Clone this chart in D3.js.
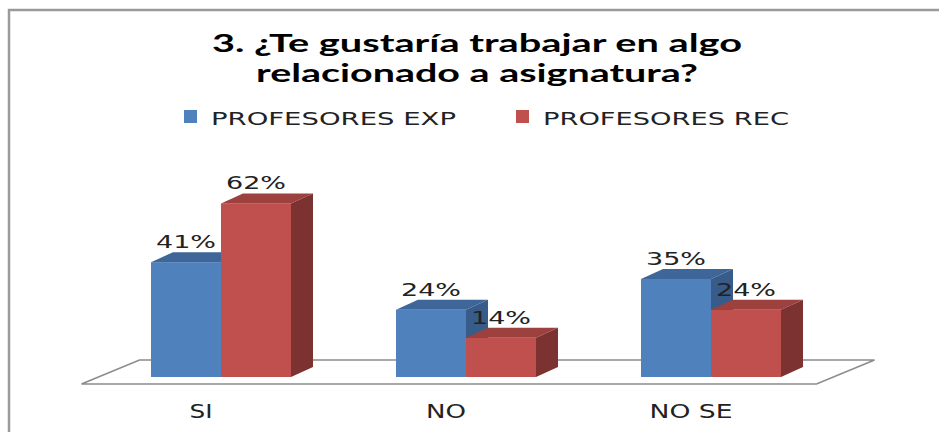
<!DOCTYPE html>
<html><head><meta charset="utf-8">
<script src="https://cdn.jsdelivr.net/npm/d3@7"></script>
<style>body{margin:0;background:#fff;overflow:hidden}</style>
</head><body>
<svg id="c" width="939" height="432"></svg>
<script>
const categories = ["SI", "NO", "NO SE"];
const seriesNames = ["PROFESORES EXP", "PROFESORES REC"];
const profesoresExp = [41, 24, 35];
const profesoresRec = [62, 14, 24];
const titleLines = ["3. ¿Te gustaría trabajar en algo", "relacionado a asignatura?"];

const seriesValues = [profesoresExp, profesoresRec];
const colors = {
  front: ["#4F81BD", "#C0504D"],
  top: ["#3E6698", "#9C413E"],
  side: ["#375C8A", "#7B3230"]
};
// text widths (style/layout only)
const titleWidths = [530, 442];
const legendWidths = [245, 246];
const catWidths = {"SI": 23, "NO": 40, "NO SE": 83};

const W = 939, H = 432;
const svg = d3.select("#c");

svg.append("rect").attr("x", 9).attr("y", 10).attr("width", W + 20).attr("height", H + 20)
  .attr("fill", "#fff").attr("stroke", "#9a9a9a").attr("stroke-width", 2.5);

const x = d3.scalePoint().domain(categories).range([98.5, 833.5]).padding(0.5);
const xs = d3.scaleBand().domain(seriesNames).range([-70, 70]).padding(0);
const y = d3.scaleLinear().domain([0, 100]).range([377, 97]);
const dx = 22, dy = -10;

// floor
const [r0, r1] = x.range();
const b = y(0);
const floorPts = [[r0 - 17, b + 7], [r1 - 17, b + 7], [r1 + 41, b - 17], [r0 + 41, b - 17]];
svg.append("polygon").attr("points", floorPts.map(p => p.join(",")).join(" "))
  .attr("fill", "none").attr("stroke", "#8c8c8c").attr("stroke-width", 1.6);

// bars
categories.forEach((c, i) => {
  seriesNames.forEach((s, k) => {
    const v = seriesValues[k][i];
    const x0 = x(c) + xs(s), x1 = x0 + xs.bandwidth();
    const yt = y(v), yb = y(0);
    const g = svg.append("g");
    g.append("rect").attr("x", x0).attr("y", yt).attr("width", x1 - x0).attr("height", yb - yt)
      .attr("fill", colors.front[k]);
    g.append("polygon").attr("points", [[x0, yt], [x1, yt], [x1 + dx, yt + dy], [x0 + dx, yt + dy]].map(p => p.join(",")).join(" "))
      .attr("fill", colors.top[k]);
    g.append("polygon").attr("points", [[x1, yt], [x1 + dx, yt + dy], [x1 + dx, yb + dy], [x1, yb]].map(p => p.join(",")).join(" "))
      .attr("fill", colors.side[k]);
  });
});

// value labels
categories.forEach((c, i) => {
  seriesNames.forEach((s, k) => {
    const v = seriesValues[k][i];
    svg.append("text")
      .attr("x", x(c) + xs(s) + xs.bandwidth() / 2)
      .attr("y", y(v) - 14)
      .attr("text-anchor", "middle")
      .attr("font-family", "DejaVu Sans")
      .attr("font-size", 17)
      .attr("fill", "#222")
      .attr("textLength", 60).attr("lengthAdjust", "spacingAndGlyphs")
      .text(v + "%");
  });
});

// category labels
categories.forEach(c => {
  svg.append("text")
    .attr("x", x(c) - 20).attr("y", 418)
    .attr("text-anchor", "middle")
    .attr("font-family", "DejaVu Sans").attr("font-size", 19).attr("fill", "#222")
    .attr("textLength", catWidths[c]).attr("lengthAdjust", "spacingAndGlyphs")
    .text(c);
});

// title
titleLines.forEach((t, i) => {
  svg.append("text")
    .attr("x", 477).attr("y", 52 + i * 30)
    .attr("text-anchor", "middle")
    .attr("font-family", "Lato").attr("font-weight", "bold").attr("font-size", 24).attr("fill", "#000")
    .attr("textLength", titleWidths[i]).attr("lengthAdjust", "spacingAndGlyphs")
    .text(t);
});

// legend
const legX = [184, 516];
seriesNames.forEach((s, k) => {
  svg.append("rect").attr("x", legX[k]).attr("y", 110).attr("width", 13).attr("height", 13)
    .attr("fill", colors.front[k]);
  svg.append("text").attr("x", legX[k] + 27).attr("y", 125)
    .attr("font-family", "DejaVu Sans").attr("font-size", 18).attr("fill", "#222")
    .attr("textLength", legendWidths[k]).attr("lengthAdjust", "spacingAndGlyphs")
    .text(s);
});
</script>
</body></html>
